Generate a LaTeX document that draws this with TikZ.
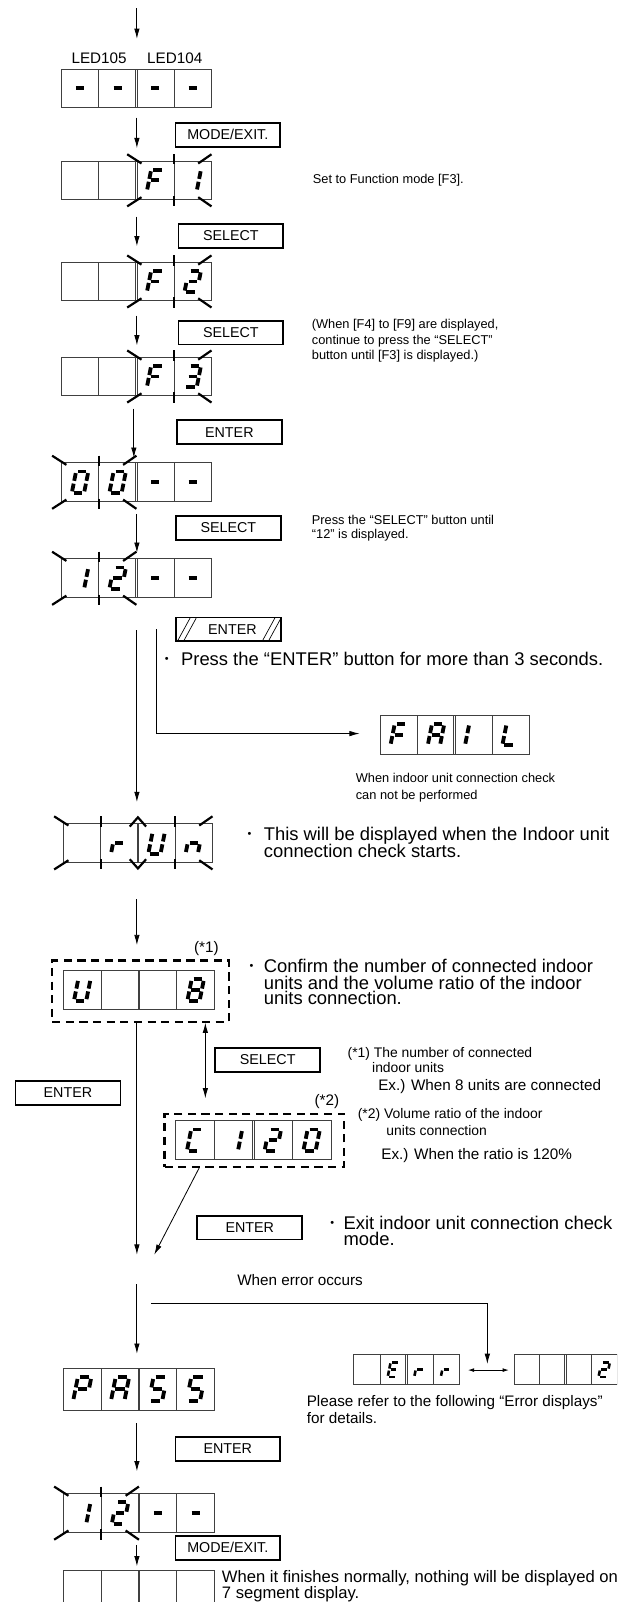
\documentclass[tikz,border=0pt]{standalone}
\usepackage{fontspec}
\setmainfont{Liberation Sans}
\usetikzlibrary{arrows.meta}
\def\segw{2.8pt}
\def\digscale{1}
\tikzset{
  seg/.style={line width=\segw, line cap=butt},
  cellbox/.style={draw=black!75, line width=0.6pt, anchor=north west, inner sep=0pt, outer sep=0pt},
  cellline/.style={draw=black!75, line width=0.6pt},
  ray/.style={line width=1.6pt},
  btn/.style={draw, line width=1.3pt, minimum width=77pt, minimum height=17.5pt, inner sep=0pt, font=\fontsize{10.5}{12}\selectfont},
  conn/.style={line width=0.6pt, -{Latex[length=7.5pt,width=4pt]}},
  dconn/.style={line width=0.6pt, {Latex[length=7.5pt,width=4pt]}-{Latex[length=7.5pt,width=4pt]}},
  sconn/.style={line width=0.6pt, {Latex[length=4.5pt,width=2.8pt]}-{Latex[length=4.5pt,width=2.8pt]}},
  note/.style={font=\fontsize{9.4}{11}\selectfont, anchor=base west, inner sep=0pt},
  notec/.style={font=\fontsize{10.2}{11}\selectfont, anchor=base west, inner sep=0pt},
  notex/.style={font=\fontsize{11.2}{12}\selectfont, anchor=base west, inner sep=0pt},
  bigt/.style={font=\fontsize{13.5}{14}\selectfont, anchor=base west, inner sep=0pt},
  bul/.style={font=\fontsize{8}{8}\selectfont, anchor=base west, inner sep=0pt},
  lbl/.style={font=\fontsize{11.2}{12}\selectfont, inner sep=0pt},
  dbox/.style={draw, line width=1.6pt, dash pattern=on 6pt off 4pt, anchor=north west, inner sep=0pt},
}
\expandafter\def\csname seg-a\endcsname{\draw[seg] (-4.1,10.5)--(4.1,10.5);}
\expandafter\def\csname seg-b\endcsname{\draw[seg] (6,8.9)--(6,1.4);}
\expandafter\def\csname seg-c\endcsname{\draw[seg] (6,-1.4)--(6,-8.9);}
\expandafter\def\csname seg-d\endcsname{\draw[seg] (-4.1,-10.5)--(4.1,-10.5);}
\expandafter\def\csname seg-e\endcsname{\draw[seg] (-6,-1.4)--(-6,-8.9);}
\expandafter\def\csname seg-f\endcsname{\draw[seg] (-6,8.9)--(-6,1.4);}
\expandafter\def\csname seg-g\endcsname{\draw[seg] (-4.1,0)--(4.1,0);}
\expandafter\def\csname seg-h\endcsname{\draw[seg] (-4,0)--(4,0);}
\def\DgN{}
\def\DgH{h}
\def\DgF{a,e,f,g}
\def\DgOne{b,c}
\def\DgTwo{a,b,g,e,d}
\def\DgThree{a,b,g,c,d}
\def\DgZero{a,b,c,d,e,f}
\def\Dgr{e,g}
\def\DgU{b,c,d,e,f}
\def\Dgn{c,e,g}
\def\DgEight{a,b,c,d,e,f,g}
\def\DgC{a,d,e,f}
\def\DgP{a,b,e,f,g}
\def\DgA{a,b,c,e,f,g}
\def\DgS{a,f,g,c,d}
\def\DgE{a,d,e,f,g}
\def\DgL{d,e,f}
\def\DgI{e,f}
\newcommand\digit[3]{%
  \begin{scope}[shift={({#1},{#2})}, scale=\digscale, yscale=-1, xslant=-0.2]
    \foreach \s in #3 {\csname seg-\s\endcsname}
  \end{scope}}
\newcommand\disp[9]{%
  \node[cellbox, minimum width=#4*0.75pt, minimum height=#5*0.75pt] (#1) at (#2,#3) {};
  \draw[cellline] ({#2+#4/4},#3) -- ({#2+#4/4},{#3+#5});
  \draw[cellline] ({#2+#4/2-0.9},#3) -- ({#2+#4/2-0.9},{#3+#5});
  \draw[cellline] ({#2+#4/2+0.9},#3) -- ({#2+#4/2+0.9},{#3+#5});
  \draw[cellline] ({#2+3*#4/4},#3) -- ({#2+3*#4/4},{#3+#5});
  \digit{#2+#4/8}{#3+#5/2}{#6}
  \digit{#2+3*#4/8}{#3+#5/2}{#7}
  \digit{#2+5*#4/8}{#3+#5/2}{#8}
  \digit{#2+7*#4/8}{#3+#5/2}{#9}}
% flash marks
\newcommand\flashL[3]{% xl yt yb
  \draw[ray] ({#1-9},{#2-7}) -- ({#1+5},{#2+2});
  \draw[ray] ({#1-9},{#3+7}) -- ({#1+5},{#3-2});}
\newcommand\flashR[3]{% xr yt yb
  \draw[ray] ({#1-13},{#2+2}) -- ({#1},{#2-7});
  \draw[ray] ({#1-13},{#3-2}) -- ({#1},{#3+7});}
\newcommand\flashT[3]{% xd yt yb
  \draw[ray] (#1,{#2-7}) -- (#1,{#2+3});
  \draw[ray] (#1,{#3-3}) -- (#1,{#3+7});}
\newcommand\flash[5]{\flashL{#1}{#3}{#4}\flashR{#2}{#3}{#4}\flashT{#5}{#3}{#4}}
\begin{document}
\begin{tikzpicture}[x=0.75pt,y=-0.75pt]
\useasboundingbox (0,0) rectangle (604,1568);
\clip (0,0) rectangle (604,1568);

% ---------- top
\coordinate (s0) at (134,8); \coordinate (e0) at (134,38);
\draw[conn] (s0) -- (e0);
\node[lbl] (l105) at (97,57) {LED105};
\node[lbl] (l104) at (171,57) {LED104};
\disp{d1}{60}{68}{147}{37}{\DgH}{\DgH}{\DgH}{\DgH}

\coordinate (s1) at (134,115); \coordinate (e1) at (134,145);
\draw[conn] (s1) -- (e1);
\node[btn] (b1) at (223,132) {MODE/EXIT.};
\disp{d2}{60}{158}{147}{37}{\DgN}{\DgN}{\DgF}{\DgOne}
\flash{133.5}{207}{158}{195}{170.25}
\node[note] (t1) at (306,180) {Set to Function mode [F3].};

\coordinate (s2) at (134,212); \coordinate (e2) at (134,241);
\draw[conn] (s2) -- (e2);
\node[btn] (b2) at (226,231) {SELECT};
\disp{d3}{60}{257}{147}{37}{\DgN}{\DgN}{\DgF}{\DgTwo}
\flash{133.5}{207}{257}{294}{170.25}

\coordinate (s3) at (134,309); \coordinate (e3) at (134,338);
\draw[conn] (s3) -- (e3);
\node[btn] (b3) at (226,325.5) {SELECT};
\node[note] (t2a) at (305,322) {(When [F4] to [F9] are displayed,};
\node[note] (t2b) at (305,337) {continue to press the “SELECT”};
\node[note] (t2c) at (305,352) {button until [F3] is displayed.)};
\disp{d4}{60}{350}{147}{37}{\DgN}{\DgN}{\DgF}{\DgThree}
\flash{133.5}{207}{350}{387}{170.25}

\coordinate (s4) at (131,400); \coordinate (e4) at (131,448);
\draw[conn] (s4) -- (e4);
\node[btn] (b4) at (224.5,423) {ENTER};
\disp{d5}{60}{453}{147}{38}{\DgZero}{\DgZero}{\DgH}{\DgH}
\flash{60}{133.5}{453}{491}{96.75}

\coordinate (s5) at (134,503); \coordinate (e5) at (134,541);
\draw[conn] (s5) -- (e5);
\node[btn] (b5) at (223.5,516.5) {SELECT};
\node[note] (t3a) at (305,513) {Press the “SELECT” button until};
\node[note] (t3b) at (305,527) {“12” is displayed.};
\disp{d6}{60}{547}{147}{38}{\DgOne}{\DgTwo}{\DgH}{\DgH}
\flash{60}{133.5}{547}{585}{96.75}

% hatched ENTER
\node[btn] (b6) at (223.5,616) {\hspace*{6pt}ENTER};
\draw[line width=0.5pt] (174,627) -- (186,605) (180,627) -- (192,605);
\draw[line width=0.5pt] (257,627) -- (269,605) (263,627) -- (275,605);
\node[bul] (t4b) at (161,648) {•};
\node[bigt] (t4) at (177,651) {Press the “ENTER” button for more than 3 seconds.};

\coordinate (s6) at (134,617); \coordinate (e6) at (134,785);
\draw[conn] (s6) -- (e6);
\coordinate (s7) at (153,616); \coordinate (e7) at (352,718);
\draw[conn] (s7) |- (e7);
\disp{fail}{372}{700}{146}{38}{\DgF}{\DgA}{\DgI}{\DgL}
\node[note] (t5a) at (348,766) {When indoor unit connection check};
\node[note] (t5b) at (348,783) {can not be performed};

% rUn
\disp{run}{62}{806}{146}{38}{\DgN}{\Dgr}{\DgU}{\Dgn}
\flashL{62}{806}{844}
\flashT{98.5}{806}{844}
\flashT{171.5}{806}{844}
\flashR{208}{806}{844}
\draw[ray] (127,809) -- (135,800) -- (143,809);
\draw[ray] (127,841) -- (135,850) -- (143,841);
\node[bul] (t6b) at (242,820) {•};
\node[bigt] (t6a) at (258,823) {This will be displayed when the Indoor unit};
\node[bigt] (t6c) at (258,839) {connection check starts.};

\coordinate (s8) at (134,880); \coordinate (e8) at (134,925);
\draw[conn] (s8) -- (e8);
\node[lbl] (n1) at (202,928) {(*1)};
\node[dbox, minimum width=173*0.75pt, minimum height=60*0.75pt] (u8box) at (50,939) {};
\disp{u8}{62}{950}{148}{38}{\DgU}{\DgN}{\DgN}{\DgEight}
\node[bul] (t8b) at (244,949) {•};
\node[bigt] (t8a) at (258,952) {Confirm the number of connected indoor};
\node[bigt] (t8c) at (258,968) {units and the volume ratio of the indoor};
\node[bigt] (t8d) at (258,983) {units connection.};

\coordinate (s9) at (201,1001); \coordinate (e9) at (201,1075);
\draw[dconn] (s9) -- (e9);
\node[btn] (b7) at (262,1037.5) {SELECT};
\node[notec] (t9a) at (340,1035) {(*1) The number of connected};
\node[notec] (t9b) at (364,1050) {indoor units};
\node[notex] (t9c) at (370,1067) {Ex.) When 8 units are connected};

\node[btn] (b8) at (66.5,1069.5) {ENTER};
\node[lbl] (n2) at (320,1078) {(*2)};
\node[dbox, minimum width=176*0.75pt, minimum height=52*0.75pt] (c120box) at (160,1089) {};
\disp{c120}{172}{1097}{152}{38}{\DgC}{\DgOne}{\DgTwo}{\DgZero}
\node[notec] (t11a) at (350,1095) {(*2) Volume ratio of the indoor};
\node[notec] (t11b) at (378,1111) {units connection};
\node[notex] (t11c) at (373,1135) {Ex.) When the ratio is 120\%};

\coordinate (s10) at (134,1001); \coordinate (e10) at (134,1228);
\draw[conn] (s10) -- (e10);
\coordinate (s11) at (195,1143); \coordinate (e11) at (151,1228);
\draw[conn] (s11) -- (e11);
\node[btn] (b9) at (244.5,1201.5) {ENTER};
\node[bul] (t12b) at (323,1200) {•};
\node[bigt] (t12a) at (336,1203) {Exit indoor unit connection check};
\node[bigt] (t12c) at (336,1219) {mode.};

% PASS / error
\coordinate (s12) at (134,1257); \coordinate (e12) at (134,1325);
\draw[conn] (s12) -- (e12);
\node[notex] (t13) at (232,1258) {When error occurs};
\coordinate (s13) at (148,1276); \coordinate (e13) at (477,1335);
\draw[conn] (s13) -| (e13);
\def\digscale{1.1}
\disp{pass}{62}{1339}{148}{41}{\DgP}{\DgA}{\DgS}{\DgS}

\def\digscale{0.68}\def\segw{1.9pt}
\disp{err}{346}{1326}{104}{29}{\DgN}{\DgE}{\Dgr}{\Dgr}
\disp{two}{503}{1326}{101}{29}{\DgN}{\DgN}{\DgN}{\DgTwo}
\def\digscale{1}\def\segw{2.8pt}
\coordinate (s14) at (458,1341); \coordinate (e14) at (498,1341);
\draw[sconn] (s14) -- (e14);
\node[notex] (t14a) at (300,1377) {Please refer to the following “Error displays”};
\node[notex] (t14b) at (300,1393) {for details.};

\coordinate (s15) at (134,1393); \coordinate (e15) at (134,1440);
\draw[conn] (s15) -- (e15);
\node[btn] (b10) at (223,1418) {ENTER};
\disp{d7}{62}{1462}{148}{38}{\DgOne}{\DgTwo}{\DgH}{\DgH}
\flash{62}{136}{1462}{1500}{99}

\coordinate (s16) at (134,1512); \coordinate (e16) at (134,1533);
\draw[conn] (s16) -- (e16);
\node[btn] (b11) at (223,1515) {MODE/EXIT.};
\disp{d8}{62}{1537}{148}{40}{\DgN}{\DgN}{\DgN}{\DgN}
\node[font=\fontsize{12.2}{13}\selectfont, anchor=base west, inner sep=0pt] (t15a) at (217,1549) {When it finishes normally, nothing will be displayed on};
\node[font=\fontsize{12.2}{13}\selectfont, anchor=base west, inner sep=0pt] (t15b) at (217,1565) {7 segment display.};
\end{tikzpicture}
\end{document}
